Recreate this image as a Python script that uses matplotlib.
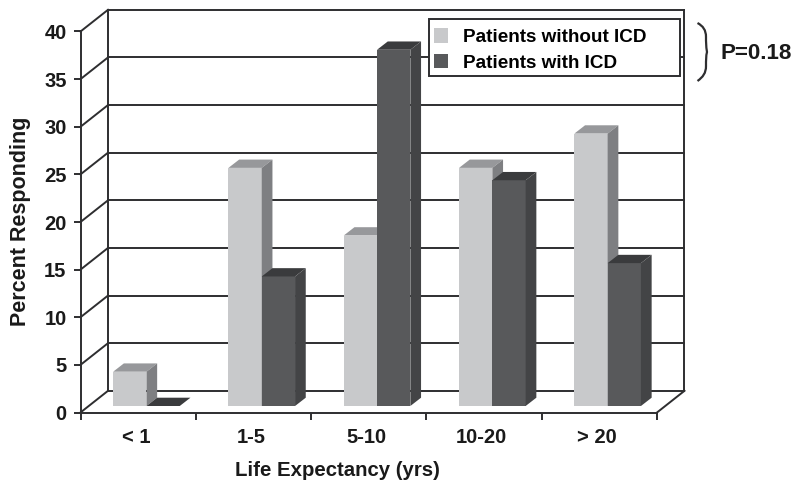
import matplotlib
matplotlib.use('Agg')
import matplotlib.pyplot as plt
from matplotlib.patches import Polygon, Patch, PathPatch, Rectangle
from matplotlib.path import Path
from matplotlib.transforms import Affine2D

plt.rcParams['font.family'] = ['Liberation Sans', 'DejaVu Sans']
plt.rcParams['font.weight'] = 'bold'

categories = ['< 1', '1-5', '5-10', '10-20', '> 20']
without_icd = [3.6, 25.0, 17.9, 25.0, 28.6]
with_icd = [0.0, 13.6, 37.4, 23.7, 15.0]
y_ticks = [0, 5, 10, 15, 20, 25, 30, 35, 40]
series_names = ['Patients without ICD', 'Patients with ICD']

LINE = '#2e2e30'
LIGHT = ('#c8c9cb', '#97989b', '#7e7f82')  # front, top, side
DARK = ('#58595b', '#3a3b3d', '#434446')

W, H = 800, 490
fig = plt.figure(figsize=(8, 4.9), dpi=100)
ax = fig.add_axes([80.5 / W, 1 - 412.5 / H, 576.5 / W, 381 / H])
ax.set_xlim(0, 5)
ax.set_ylim(0, 40)

# sizes in data units
px_x = 5 / 576.5
px_y = 40 / 381
wall_dx, wall_dy = 27.5 * px_x, 21.7 * px_y
inset_x, inset_y = 8.3 * px_x, 6.5 * px_y
bar_w = 33.3 * px_x
bar_dx, bar_dy = 10.7 * px_x, 8.3 * px_y

# back wall and side walls
for v in y_ticks:
    ax.plot([wall_dx, 5 + wall_dx], [v + wall_dy] * 2, color=LINE, lw=1.4, clip_on=False, zorder=1)
    ax.plot([0, wall_dx], [v, v + wall_dy], color=LINE, lw=1.4, clip_on=False, zorder=1)
ax.plot([wall_dx, wall_dx], [wall_dy, 40 + wall_dy], color=LINE, lw=1.4, clip_on=False, zorder=1)
ax.plot([5 + wall_dx, 5 + wall_dx], [wall_dy, 40 + wall_dy], color=LINE, lw=1.4, clip_on=False, zorder=1)
ax.plot([5, 5 + wall_dx], [0, wall_dy], color=LINE, lw=1.4, clip_on=False, zorder=1)


def draw_bar(x0, val, cols, z):
    y0 = inset_y
    y1 = inset_y + val
    x1 = x0 + bar_w
    dx, dy = bar_dx, bar_dy
    if val > 0:
        ax.add_patch(Polygon([(x0, y0), (x1, y0), (x1, y1), (x0, y1)], fc=cols[0], ec='none', clip_on=False, zorder=z))
    ax.add_patch(Polygon([(x0, y1), (x1, y1), (x1 + dx, y1 + dy), (x0 + dx, y1 + dy)], fc=cols[1], ec='none', clip_on=False, zorder=z))
    ax.add_patch(Polygon([(x1, y0), (x1 + dx, y0 + dy), (x1 + dx, y1 + dy), (x1, y1)], fc=cols[2], ec='none', clip_on=False, zorder=z))


for i in range(len(categories)):
    left = i + 0.5 - bar_w + inset_x
    draw_bar(left, without_icd[i], LIGHT, 3 + i * 0.1)
    draw_bar(left + bar_w, with_icd[i], DARK, 3.05 + i * 0.1)

# front axes
for s in ['top', 'right']:
    ax.spines[s].set_visible(False)
for s in ['left', 'bottom']:
    ax.spines[s].set_color(LINE)
    ax.spines[s].set_linewidth(1.4)
ax.patch.set_visible(False)
ax.set_yticks(y_ticks)
ax.set_xticks(range(6))
ax.set_xticklabels([])
ax.set_xticks([i + 0.48 for i in range(5)], minor=True)
ax.set_xticklabels(categories, minor=True)
ax.tick_params(axis='both', which='major', length=5, width=1.4, color=LINE, labelsize=14.5, pad=5)
ax.tick_params(axis='x', which='minor', length=0, labelsize=14.5, pad=11)
for t in ax.get_xticklabels(minor=True) + ax.get_yticklabels():
    t.set_fontweight('bold')
    t.set_color('#1a1a1a')

ax.set_xlabel('Life Expectancy (yrs)', fontsize=14.7, fontweight='bold', color='#1a1a1a')
ax.xaxis.set_label_coords(0.445, -0.128)
ax.set_ylabel('Percent Responding', fontsize=15.5, fontweight='bold', color='#1a1a1a')
ax.yaxis.set_label_coords(-0.086, 0.503)

to_px = Affine2D().scale(1 / W, -1 / H).translate(0, 1) + fig.transFigure

# legend: frame drawn by hand so the rows can sit where they do in the reference
ax.add_patch(Rectangle((429, 19), 251, 57, transform=to_px, fc='white', ec=LINE, lw=1.4, clip_on=False, zorder=9))
handles = [Patch(fc=LIGHT[0], ec='none'), Patch(fc=DARK[0], ec='none')]
leg = ax.legend(handles, series_names, loc='upper left', mode='expand',
                bbox_to_anchor=(429 / W, 1 - 76 / H, 251 / W, 53 / H),
                bbox_transform=fig.transFigure, fontsize=13.6, frameon=False,
                borderpad=0.27, labelspacing=0.42,
                handlelength=0.75, handleheight=0.8, handletextpad=0.8, borderaxespad=0)
leg.set_zorder(10)

# brace and p value, placed in pixels of the picture
brace = Path([(697.5, 23), (703, 26), (706, 30), (706, 37), (706, 42), (706, 46), (707, 52),
              (706, 56), (706, 60), (706, 66), (706, 73), (703, 77), (697.5, 81)],
             [Path.MOVETO, Path.CURVE4, Path.CURVE4, Path.CURVE4, Path.CURVE4, Path.CURVE4, Path.CURVE4,
              Path.CURVE4, Path.CURVE4, Path.CURVE4, Path.CURVE4, Path.CURVE4, Path.CURVE4])
fig.add_artist(PathPatch(brace, fc='none', ec=LINE, lw=1.6, transform=to_px))
fig.text(720, 53.5, 'P=0.18', transform=to_px, fontsize=16.1, fontweight='bold', color='#1a1a1a',
         ha='left', va='center')

fig.savefig('out.png', dpi=100)
